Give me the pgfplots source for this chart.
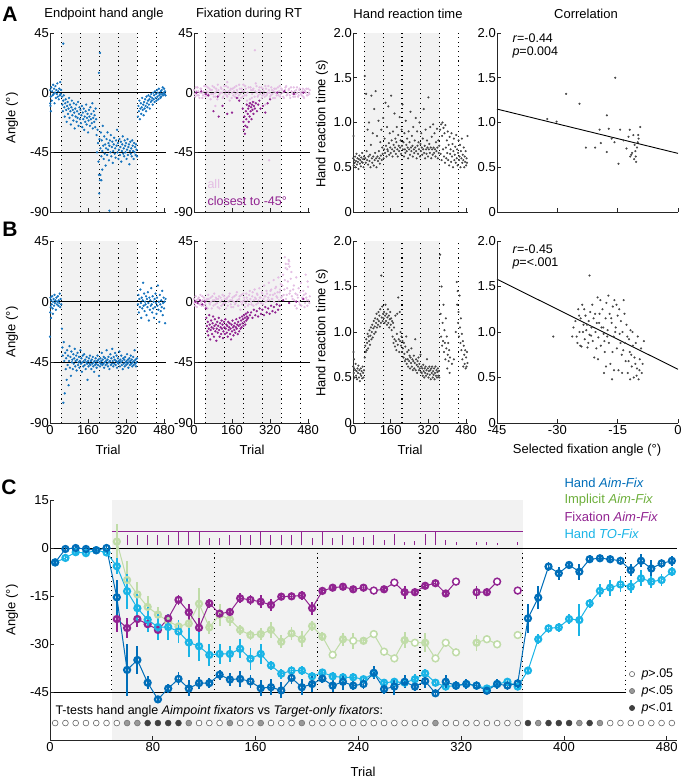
\documentclass[border=0pt]{standalone}
\usepackage{fontspec}
\setmainfont{Liberation Sans}
\usepackage{pgfplots}
\pgfplotsset{compat=1.18}
\definecolor{hbl}{RGB}{0,110,185}
\definecolor{hcy}{RGB}{25,180,230}
\definecolor{hgr}{RGB}{192,220,168}
\definecolor{hgrt}{RGB}{110,175,60}
\definecolor{hpu}{RGB}{145,35,145}
\definecolor{hpk}{RGB}{228,190,228}
\definecolor{sbl}{RGB}{20,115,190}
\definecolor{rtg}{RGB}{70,70,70}
\definecolor{bgc}{RGB}{242,242,242}
\pgfplotsset{
  base/.style={scale only axis, axis lines*=left, tick align=inside, major tick length=4pt, clip=false, axis on top,
     axis line style={line width=0.7pt, black!85}, tick style={line width=0.7pt, black!85},
     /pgf/number format/assume math mode=true,
     tick label style={font=\fontsize{13}{15}\selectfont},
     yticklabel style={inner sep=1pt}, xticklabel style={inner sep=1pt, yshift=-1pt}},
  tr/.style={base, xmin=0, xmax=488, xtick={0,160,320,480}, width=116pt},
  ang/.style={ymin=-90, ymax=45, ytick={-90,-45,0,45}, yticklabels={-90,-45,0,45}},
  rt/.style={ymin=0, ymax=2, ytick={0,0.5,1,1.5,2}, yticklabels={0,0.5,1.0,1.5,2.0}},
  cor/.style={base, xmin=-45, xmax=0, xtick={-45,-30,-15,0}, width=181pt, rt},
  dotl/.style={black, line width=1.1pt, dash pattern=on 1.1pt off 3.6pt},
  sc/.style={only marks, mark=*, mark size=0.95pt},
  hl/.style={black, line width=0.8pt},
}
\newcommand{\deco}[2]{%
 \addplot[fill=bgc, draw=none, forget plot] coordinates {(48,#1) (368,#1) (368,#2) (48,#2)} -- cycle;
 \pgfplotsinvokeforeach{48,128,208,288,368,448}{\addplot[dotl, forget plot] coordinates {(##1,#1) (##1,#2)};}
}
\begin{document}
\fontsize{13}{15}\selectfont
\begin{tikzpicture}[x=1pt,y=1pt]
\path[use as bounding box] (0,0) rectangle (681,-781);

%================ A1
\begin{axis}[tr, ang, at={(50pt,-212pt)}, anchor=south west, height=179pt, xticklabels={}]
\deco{-90}{45}
\addplot[hl] coordinates {(0,0)(488,0)};
\addplot[hl] coordinates {(0,-45)(488,-45)};
\addplot[sc, sbl] coordinates {
(1,2)(3,-3)(5,4)(7,-6)(9,1)(11,-2)(13,6)(15,-1)(17,3)(19,-8)(21,0)(23,5)(25,-4)(27,2)(29,-1)(31,7)(33,-3)(35,1)(37,-5)(39,3)(41,-2)(43,8)(45,-1)(47,2)(2,-10)(4,-14)(1,-8)
(50,-3)(52,-9)(54,-14)(56,-6)(58,-2)(60,-11)(62,-18)(64,-8)(66,-5)(68,-13)(70,-22)(72,-10)(74,-7)(76,-16)(78,-12)(80,-4)(82,-19)(84,-9)(86,-14)(88,-24)(90,-11)(92,-6)(94,-17)(96,-13)(98,-21)(100,-8)(102,-15)(104,-27)(106,-12)(108,-18)(110,-9)(112,-22)(114,-14)(116,-19)(118,-7)(120,-25)(122,-16)(124,-11)(126,-20)(128,-13)(130,-23)(132,-17)(134,-10)(136,-26)(138,-15)(140,-20)(142,-12)(144,-28)(146,-18)(148,-22)(150,-14)(152,-9)(154,-24)(156,-19)(158,-16)(160,-30)(162,-21)(164,-13)(166,-18)(168,-25)(170,-11)(172,-20)(174,-16)(176,-23)(178,-8)(180,-27)(182,-19)(184,-14)(186,-22)(188,-17)(190,-26)(192,-12)(194,-20)
(56,37)(206,15)(210,30)
(196,-32)(198,-45)(200,-28)(202,-38)(204,-52)(206,-62)(208,-35)(210,-66)(212,-42)(214,-30)(216,-48)(218,-36)(220,-44)(222,-25)(224,-40)(226,-50)(228,-33)(230,-46)(232,-39)(234,-55)(236,-42)(238,-35)(240,-47)(242,-30)(244,-43)(246,-38)(248,-51)(250,-40)(252,-36)(254,-45)(256,-32)(258,-48)(260,-41)(262,-37)(264,-53)(266,-44)(268,-39)(270,-34)(272,-46)(274,-42)(276,-49)(278,-36)(280,-40)(282,-28)(284,-45)(286,-38)(288,-50)(290,-43)(292,-35)(294,-47)(296,-41)(298,-37)(300,-52)(302,-44)(304,-39)(306,-33)(308,-46)(310,-42)(312,-48)(314,-36)(316,-40)(318,-45)(320,-38)(322,-50)(324,-43)(326,-35)(328,-47)(330,-41)(332,-39)(334,-54)(336,-44)(338,-37)(340,-46)(342,-42)(344,-48)(346,-36)(348,-40)(350,-44)(352,-50)(354,-38)(356,-45)(358,-41)(360,-47)(362,-39)(364,-43)(366,-48)
(207,-76)(250,-89)(212,-62)(216,-66)(220,-58)
(370,-18)(372,-10)(374,-14)(376,-6)(378,-20)(380,-12)(382,-8)(384,-16)(386,-11)(388,-4)(390,-13)(392,-9)(394,-17)(396,-7)(398,-12)(400,-5)(402,-10)(404,-14)(406,-3)(408,-8)(410,-11)(412,-6)(414,-2)(416,-9)(418,-5)(420,-12)(422,-3)(424,-7)(426,-1)(428,-6)(430,-4)(432,-9)(434,0)(436,-5)(438,-2)(440,-7)(442,1)(444,-4)(446,-1)(448,-6)(450,2)(452,-3)(454,0)(456,-5)(458,3)(460,-2)(462,-1)(464,-4)(466,1)(468,-3)(470,2)(472,-1)(474,4)(476,-2)(478,0)(480,3)(482,-1)(484,1)(486,-2)
};
\end{axis}

%================ A2
\begin{axis}[tr, ang, at={(194pt,-212pt)}, anchor=south west, height=179pt, xticklabels={}]
\deco{-90}{45}
\addplot[hl] coordinates {(0,0)(488,0)};
\addplot[hl] coordinates {(0,-45)(488,-45)};
\addplot[sc, hpk] coordinates {
(0,2)(5,-3)(10,1)(15,4)(20,-2)(25,0)(30,3)(35,-4)(40,1)(45,-1)(50,5)(55,-2)(60,0)(65,3)(70,-5)(75,2)(80,-1)(85,4)(90,-3)(95,1)(100,6)(105,-2)(110,0)(115,3)(120,-4)(125,2)(130,-1)(135,5)(140,-3)(145,1)(150,-6)(155,3)(160,0)(165,-2)(170,4)(175,-1)(180,2)(185,-4)(190,6)(195,-1)(200,3)(205,-3)(210,1)(215,5)(220,-2)(225,0)(230,4)(235,-5)(240,2)(245,-1)(250,3)(255,-3)(260,7)(265,0)(270,-2)(275,4)(280,1)(285,-4)(290,3)(295,-1)(300,5)(305,-2)(310,0)(315,2)(320,-3)(325,4)(330,-1)(335,1)(340,-4)(345,3)(350,0)(355,-2)(360,5)(365,-1)(370,2)(375,-3)(380,1)(385,4)(390,-2)(395,0)(400,3)(405,-4)(410,1)(415,-1)(420,4)(425,-3)(430,2)(435,0)(440,-2)(445,3)(450,-1)(455,1)(460,-3)(465,2)(470,0)(475,-2)(480,3)(485,-1)
(3,-1)(8,4)(13,-2)(18,1)(23,-4)(28,3)(33,0)(38,-2)(43,5)(48,-3)(53,1)(58,4)(63,-2)(68,2)(73,-1)(78,5)(83,-3)(88,0)(93,3)(98,-5)(103,2)(108,-1)(113,4)(118,0)(123,-3)(128,5)(133,1)(138,-2)(143,4)(148,-1)(153,2)(158,-4)(163,3)(168,1)(173,-3)(178,5)(183,0)(188,-2)(193,3)(198,-4)(203,1)(208,6)(213,-2)(218,3)(223,-6)(228,-10)(233,-8)(238,4)(243,-4)(248,2)(253,-7)(258,1)(263,5)(268,-3)(273,2)(278,-1)(283,4)(288,-2)(293,1)(298,-3)(303,3)(308,-1)(313,5)(318,0)(323,-2)(328,2)(333,-4)(338,3)(343,0)(348,-2)(353,4)(358,1)(363,-3)(368,3)(373,0)(378,-4)(383,2)(388,5)(393,-1)(398,2)(403,-2)(408,4)(413,0)(418,-3)(423,1)(428,-1)(433,4)(438,-3)(443,2)(448,0)(453,-2)(458,3)(463,-4)(468,1)(473,3)(478,-2)(483,0)(487,2)
(256,32)(316,-51)(90,-10)(140,8)(300,-9)
};
\addplot[sc, hpu] coordinates {
(10,0)(30,1)(50,-1)(60,-2)(82,-14)(100,-3)(104,-18)(120,-10)(140,-16)(160,-15)(180,-4)(190,-6)
(205,-12)(208,-22)(210,-28)(212,-18)(214,-31)(216,-25)(218,-14)(220,-20)(222,-9)(224,-26)(226,-16)(228,-12)(230,-22)(232,-10)(234,-18)(236,-8)(238,-14)(240,-11)(242,-20)(244,-9)(246,-13)(248,-7)(250,-16)(252,-10)(256,-12)(260,-8)(265,-14)(270,-9)(275,-6)(280,-12)(290,-10)(300,-15)(310,-8)(320,-5)
(350,0)(380,1)(420,-1)(460,0)
};
\end{axis}

%================ A3
\begin{axis}[tr, rt, at={(353pt,-212pt)}, anchor=south west, height=179pt, width=115pt, xticklabels={}]
\deco{0}{2}
\addplot[sc, rtg, mark size=0.85pt] coordinates {
(1,0.6)(3,0.52)(5,0.58)(7,0.55)(9,0.62)(11,0.5)(13,0.57)(15,0.65)(17,0.53)(19,0.6)(21,0.56)(23,0.48)(25,0.59)(27,0.63)(29,0.54)(31,0.58)(33,0.51)(35,0.61)(37,0.56)(39,0.66)(41,0.55)(43,0.59)(45,0.5)(47,0.62)(2,0.85)
(50,1.52)(52,0.6)(54,0.55)(56,1.32)(58,0.68)(60,0.58)(62,0.92)(64,0.53)(66,0.62)(68,1.0)(70,0.57)(72,0.64)(74,0.5)(76,0.75)(78,1.3)(80,0.6)(82,0.55)(84,0.88)(86,0.62)(88,0.52)(90,1.15)(92,0.58)(94,0.66)(96,1.35)(98,0.6)(100,0.5)(102,0.85)(104,0.62)(106,0.57)(108,1.02)(110,0.68)(112,0.6)(114,0.54)(116,0.78)(118,0.63)(120,0.92)(122,0.58)(124,0.72)(126,0.65)(128,1.05)(130,0.6)(132,0.7)(134,0.82)(136,0.66)(138,1.22)(140,0.74)(142,0.62)(144,0.95)(146,0.7)(148,0.68)(150,1.18)(152,0.77)(154,0.64)(156,0.88)(158,0.72)(160,0.66)(162,1.3)(164,0.8)(166,0.7)(168,0.62)(170,0.9)(172,0.75)(174,0.68)(176,1.1)(178,0.72)(180,0.82)(182,0.65)(184,0.78)(186,0.95)(188,0.7)(190,0.62)(192,0.86)(194,0.74)(196,0.68)(198,1.06)(200,0.72)(202,0.8)(204,0.65)(206,0.92)(208,0.74)(210,1.2)(212,0.7)(214,0.78)(216,0.62)(218,0.88)(220,0.7)(222,0.66)(224,1.02)(226,0.75)(228,0.68)(230,0.82)(232,0.72)(234,0.6)(236,0.9)(238,0.7)(240,0.78)(242,0.64)(244,1.12)(246,0.72)(248,0.68)(250,0.85)(252,0.74)(254,0.62)(256,0.95)(258,0.7)(260,0.66)(262,0.8)(264,0.72)(266,1.05)(268,0.68)(270,0.6)(272,0.9)(274,0.74)(276,0.65)(278,0.78)(280,0.7)(282,1.0)(284,0.62)(286,0.76)(288,0.68)(290,0.88)(292,0.72)(294,0.64)(296,0.82)(298,0.7)(300,1.15)(302,0.66)(304,0.74)(306,0.6)(308,0.92)(310,0.7)(312,0.65)(314,0.8)(316,0.72)(318,0.62)(320,1.28)(322,0.7)(324,0.76)(326,0.66)(328,0.95)(330,0.72)(332,0.6)(334,0.84)(336,0.7)(338,0.64)(340,0.98)(342,0.72)(344,0.66)(346,0.88)(348,0.7)(350,0.62)(352,0.78)(354,0.68)(356,0.93)(358,0.72)(360,0.6)(362,0.8)(364,0.66)(366,0.74)
(370,0.92)(372,0.65)(374,0.98)(376,0.58)(378,0.85)(380,1.0)(382,0.7)(384,0.94)(386,0.62)(388,0.88)(390,0.55)(392,0.97)(394,0.72)(396,0.6)(398,0.8)(400,0.66)(402,0.9)(404,0.58)(406,0.75)(408,0.52)(410,0.84)(412,0.65)(414,0.7)(416,0.56)(418,0.88)(420,0.62)(422,0.76)(424,0.5)(426,0.68)(428,0.82)(430,0.58)(432,0.64)(434,0.73)(436,0.55)(438,0.86)(440,0.6)(442,0.7)(444,0.52)(446,0.66)(448,0.8)(450,0.58)(452,0.62)(454,0.75)(456,0.5)(458,0.68)(460,0.6)(462,0.82)(464,0.55)(466,0.64)(468,0.58)(470,0.72)(472,0.5)(474,0.62)(476,0.56)(478,0.68)(480,0.52)(482,0.6)(484,0.55)(486,0.85)
};
\end{axis}

%================ A4
\begin{axis}[cor, at={(497pt,-212pt)}, anchor=south west, height=179pt, xticklabels={}]
\addplot[sc, rtg, mark size=0.85pt] coordinates {
(-32.5,1.04)(-30.2,1.01)(-27.8,1.32)(-24.5,1.21)(-15.6,1.5)(-17.7,1.08)(-19.5,0.92)(-17.2,0.93)(-14.4,0.92)(-22.9,0.72)(-20.6,0.72)(-17.7,0.67)(-19.2,0.77)(-14.8,0.54)(-12.3,0.84)(-11.1,0.86)(-9.4,0.95)(-11.9,0.62)(-10.9,0.59)(-10.4,0.56)(-10.6,0.68)(-10.2,0.72)(-10.0,0.78)(-9.8,0.82)(-10.8,0.75)(-11.4,0.66)(-12.8,0.71)(-13.5,0.8)(-15.8,0.78)(-16.5,0.82)(-12.0,0.92)(-11.6,0.64)(-10.5,0.62)(-9.9,0.86)
};
\addplot[black, line width=0.9pt] coordinates {(-45,1.15)(0,0.655)};
\end{axis}

%================ B1
\begin{axis}[tr, ang, at={(50pt,-423pt)}, anchor=south west, height=182pt, xticklabels={0,160,320,480}]
\deco{-90}{45}
\addplot[hl] coordinates {(0,0)(488,0)};
\addplot[hl] coordinates {(0,-45)(488,-45)};
\addplot[sc, sbl] coordinates {
(0,-26)(1,-8)(2,3)(3,-4)(5,1)(7,-2)(9,4)(11,-5)(13,0)(15,2)(17,-3)(19,5)(21,-1)(23,1)(25,-6)(27,3)(29,-2)(31,0)(33,4)(35,-3)(37,1)(39,-1)(41,6)(43,-4)(45,2)(47,-2)(4,-12)(12,-9)
(50,-20)(52,-34)(54,-40)(56,-75)(58,-30)(60,-44)(62,-68)(64,-38)(66,-50)(68,-42)(70,-58)(72,-36)(74,-47)(76,-40)(78,-62)(80,-44)(82,-33)(84,-49)(86,-41)(88,-55)(90,-37)(92,-45)(94,-43)(96,-50)(98,-39)(100,-46)(102,-42)(104,-35)(106,-48)(108,-44)(110,-40)(112,-51)(114,-43)(116,-38)(118,-47)(120,-45)(122,-41)(124,-49)(126,-44)(128,-36)(130,-46)(132,-42)(134,-52)(136,-45)(138,-40)(140,-48)(142,-44)(144,-39)(146,-47)(148,-43)(150,-50)(152,-45)(154,-41)(156,-46)(158,-58)(160,-44)(162,-48)(164,-42)(166,-46)(168,-40)(170,-47)(172,-44)(174,-50)(176,-43)(178,-46)(180,-41)(182,-48)(184,-45)(186,-52)(188,-44)(190,-47)(192,-42)(194,-46)(196,-49)(198,-44)(200,-40)(202,-47)(204,-43)(206,-55)(208,-45)(210,-48)(212,-42)(214,-46)(216,-44)(218,-38)(220,-47)(222,-43)(224,-46)(226,-41)(228,-49)(230,-45)(232,-42)(234,-47)(236,-44)(238,-36)(240,-46)(242,-43)(244,-48)(246,-41)(248,-45)(250,-50)(252,-44)(254,-39)(256,-47)(258,-42)(260,-46)(262,-35)(264,-44)(266,-48)(268,-41)(270,-46)(272,-43)(274,-38)(276,-47)(278,-44)(280,-40)(282,-49)(284,-45)(286,-42)(288,-46)(290,-44)(292,-37)(294,-48)(296,-43)(298,-45)(300,-40)(302,-47)(304,-44)(306,-50)(308,-42)(310,-46)(312,-43)(314,-48)(316,-41)(318,-45)(320,-47)(322,-44)(324,-39)(326,-46)(328,-43)(330,-49)(332,-45)(334,-42)(336,-47)(338,-44)(340,-40)(342,-46)(344,-43)(346,-48)(348,-45)(350,-41)(352,-47)(354,-44)(356,-36)(358,-46)(360,-43)(362,-48)(364,-45)(366,-42)
(370,-2)(372,5)(374,-8)(376,2)(378,-4)(380,9)(382,-1)(384,-12)(386,3)(388,-5)(390,1)(392,14)(394,-3)(396,6)(398,-7)(400,0)(402,-2)(404,4)(406,-10)(408,2)(410,-4)(412,7)(414,-1)(416,-14)(418,3)(420,-6)(422,1)(424,-3)(426,10)(428,-2)(430,-8)(432,4)(434,-5)(436,0)(438,-12)(440,2)(442,-4)(444,6)(446,-1)(448,-9)(450,3)(452,-3)(454,12)(456,-6)(458,0)(460,-15)(462,5)(464,-2)(466,-7)(468,1)(470,-4)(472,8)(474,-10)(476,-1)(478,3)(480,-5)(482,0)(484,-16)(486,2)
};
\end{axis}

%================ B2
\begin{axis}[tr, ang, at={(194pt,-423pt)}, anchor=south west, height=182pt, xticklabels={0,160,320,480}]
\deco{-90}{45}
\addplot[hl] coordinates {(0,0)(488,0)};
\addplot[hl] coordinates {(0,-45)(488,-45)};
\addplot[sc, hpk] coordinates {
(0,2)(5,-3)(10,1)(15,-1)(20,3)(25,-2)(30,0)(35,4)(40,-3)(45,1)(50,-4)(55,2)(60,5)(65,-1)(70,3)(75,-5)(80,1)(85,6)(90,-2)(95,2)(100,-4)(105,4)(110,0)(115,-3)(120,5)(125,-1)(130,2)(135,-5)(140,3)(145,0)(150,6)(155,-2)(160,1)(165,-4)(170,4)(175,-1)(180,7)(185,-3)(190,2)(195,-6)(200,5)(205,0)(210,3)(215,-4)(220,6)(225,1)(230,-2)(235,8)(240,0)(245,4)(250,-3)(255,9)(260,2)(265,6)(270,-1)(275,10)(280,3)(285,7)(290,-2)(295,12)(300,4)(305,8)(310,1)(315,14)(320,5)(325,9)(330,2)(335,16)(340,6)(345,11)(350,3)(355,18)(360,7)(365,13)(370,4)(375,20)(380,9)(385,25)(390,5)(395,15)(400,30)(405,8)(410,22)(415,2)(420,12)(425,-3)(430,18)(435,5)(440,10)(445,-2)(450,14)(455,3)(460,8)(465,-4)(470,6)(475,1)(480,11)(485,-1)
(2,-1)(7,4)(12,-4)(17,2)(22,-2)(27,5)(32,-3)(37,1)(42,3)(47,-2)(52,1)(57,-5)(62,2)(67,-2)(72,0)(77,4)(82,-3)(87,1)(92,3)(97,-1)(102,2)(107,-5)(112,3)(117,1)(122,-2)(127,4)(132,-1)(137,2)(142,-3)(147,4)(152,1)(157,-4)(162,3)(167,0)(172,-2)(177,5)(182,1)(187,-3)(192,4)(197,0)(202,-2)(207,6)(212,1)(217,-1)(222,3)(227,-3)(232,5)(237,2)(242,-2)(247,7)(252,1)(257,3)(262,-2)(267,5)(272,1)(277,3)(282,-1)(287,6)(292,2)(297,4)(302,0)(307,6)(312,3)(317,1)(322,8)(327,2)(332,5)(337,0)(342,10)(347,4)(352,7)(357,1)(362,9)(367,3)(372,12)(377,5)(382,16)(387,2)(392,10)(397,28)(402,6)(407,17)(412,4)(417,9)(422,1)(427,6)(432,-5)(437,3)(442,0)(447,7)(452,-3)(457,2)(462,5)(467,-1)(472,3)(477,-3)(482,1)(487,4)
(382,33)(386,28)(392,24)(398,31)(402,26)(470,20)(478,15)
};
\addplot[sc, hpu] coordinates {
(50,-5)(52,-12)(54,-18)(56,-22)(58,-15)(60,-25)(62,-20)(64,-10)(66,-17)(68,-28)(70,-21)(72,-14)(74,-19)(76,-24)(78,-16)(80,-11)(82,-20)(84,-26)(86,-18)(88,-13)(90,-22)(92,-17)(94,-29)(96,-20)(98,-15)(100,-23)(102,-18)(104,-12)(106,-21)(108,-26)(110,-16)(112,-19)(114,-24)(116,-14)(118,-20)(120,-17)(122,-27)(124,-22)(126,-15)(128,-19)(130,-24)(132,-13)(134,-20)(136,-17)(138,-23)(140,-18)(142,-26)(144,-15)(146,-21)(148,-19)(150,-16)(152,-24)(154,-20)(156,-28)(158,-17)(160,-22)(162,-14)(164,-19)(166,-25)(168,-18)(170,-21)(172,-16)(174,-23)(176,-19)(178,-13)(180,-20)(182,-17)(184,-24)(186,-15)(188,-18)(190,-22)(192,-12)(194,-17)(196,-20)(198,-14)(200,-19)(202,-11)(204,-16)(206,-13)(208,-18)(210,-10)(212,-15)(214,-12)(216,-17)(218,-9)(220,-14)(222,-11)(224,-13)(226,-8)(228,-12)
(235,-10)(240,-8)(246,-12)(252,-6)(258,-10)(264,-7)(270,-11)(276,-5)(282,-9)(288,-6)(294,-10)(300,-4)(306,-8)(312,-5)(318,-9)(324,-3)(330,-7)(336,-4)(342,-8)(348,-2)(354,-6)(360,-3)
(5,0)(15,-1)(25,1)(35,-2)(45,0)(375,1)(400,-1)(430,0)(460,2)
};
\end{axis}

%================ B3
\begin{axis}[tr, rt, at={(353pt,-423pt)}, anchor=south west, height=182pt, width=115pt, xticklabels={0,160,320,480}]
\deco{0}{2}
\addplot[sc, rtg, mark size=0.85pt] coordinates {
(1,0.62)(2,0.78)(3,0.55)(5,0.6)(7,0.5)(9,0.58)(11,0.65)(13,0.52)(15,0.57)(17,0.48)(19,0.6)(21,0.55)(23,0.63)(25,0.5)(27,0.58)(29,0.46)(31,0.54)(33,0.6)(35,0.52)(37,0.57)(39,0.49)(41,0.62)(43,0.55)(45,0.5)(47,0.58)(4,0.7)
(50,0.72)(52,0.85)(54,0.78)(56,0.92)(58,0.8)(60,0.88)(62,0.98)(64,0.82)(66,0.95)(68,0.9)(70,1.02)(72,0.86)(74,0.96)(76,1.05)(78,0.92)(80,1.0)(82,1.08)(84,0.94)(86,1.04)(88,1.12)(90,0.98)(92,1.06)(94,1.15)(96,1.0)(98,1.1)(100,1.2)(102,1.05)(104,1.14)(106,1.08)(108,1.22)(110,1.12)(112,1.18)(114,1.06)(116,1.25)(118,1.1)(120,1.62)(122,1.16)(124,1.28)(126,1.12)(128,1.2)
(130,1.15)(132,1.22)(134,1.1)(136,1.18)(138,1.3)(140,1.12)(142,1.2)(144,1.08)(146,1.16)(148,1.25)(150,1.1)(152,1.18)(154,1.05)(156,1.14)(158,1.22)(160,1.08)(162,1.15)(164,1.02)(166,1.12)(168,0.95)(170,1.1)(172,0.88)(174,1.05)(176,0.92)(178,0.84)(180,1.18)(182,0.9)(184,0.8)(186,0.98)(188,1.2)(190,0.86)(192,1.38)(194,0.92)(196,0.78)(198,1.22)(200,0.9)
(202,1.0)(204,0.85)(206,0.95)(208,0.78)(210,0.9)(212,0.82)(214,0.72)(216,0.88)(218,0.76)(220,0.68)(222,0.84)(224,0.7)(226,0.95)(228,0.65)(230,0.78)(232,0.7)(234,0.62)(236,0.8)(238,0.68)(240,0.74)(242,0.6)(244,0.72)(246,0.66)(248,0.82)(250,0.62)(252,0.7)(254,0.58)(256,0.68)(258,0.74)(260,0.6)(262,0.66)(264,0.92)(266,0.58)(268,0.7)(270,0.64)(272,0.55)(274,0.68)(276,0.62)(278,0.72)(280,0.58)(282,0.65)(284,0.6)(286,0.75)(288,0.56)
(290,0.62)(292,0.55)(294,0.6)(296,0.52)(298,0.64)(300,0.57)(302,0.5)(304,0.6)(306,0.55)(308,0.62)(310,0.52)(312,0.58)(314,0.7)(316,0.54)(318,0.6)(320,0.5)(322,0.57)(324,0.62)(326,0.53)(328,0.58)(330,0.48)(332,0.6)(334,0.55)(336,0.62)(338,0.5)(340,0.57)(342,0.53)(344,0.6)(346,0.48)(348,0.55)(350,0.62)(352,0.52)(354,0.58)(356,0.5)(358,0.56)(360,0.6)(362,0.52)(364,0.57)(366,0.5)
(370,1.85)(372,1.2)(374,0.95)(376,1.5)(378,0.85)(380,1.1)(382,0.9)(384,1.3)(386,0.78)(388,1.02)(390,0.88)(392,0.7)(394,1.15)(396,0.82)(398,0.95)(400,0.6)(402,0.75)(404,0.88)(406,0.68)(408,0.8)(410,0.55)(412,0.72)(420,0.65)(428,0.7)(436,1.0)
(440,1.55)(442,1.3)(444,1.45)(446,1.1)(448,1.22)(450,0.95)(452,1.4)(454,1.05)(456,0.88)(458,1.15)(460,0.8)(462,0.98)(464,0.7)(466,0.9)(468,0.62)(470,0.85)(472,0.75)(474,0.65)(476,0.8)(478,0.6)(480,0.72)(482,0.62)(484,0.78)(486,0.66)
};
\end{axis}

%================ B4
\begin{axis}[cor, at={(497pt,-423pt)}, anchor=south west, height=182pt, xticklabels={-45,-30,-15,0}]
\addplot[sc, rtg, mark size=0.85pt] coordinates {
(-31,0.95)(-22,1.62)
(-26,1.05)(-25.5,1.12)(-25,0.88)(-24.8,1.25)(-24.5,1.0)(-24.2,1.15)(-24,0.84)(-23.8,1.3)(-23.5,1.08)(-23.2,0.92)(-23,1.18)(-22.8,1.02)(-22.5,0.83)(-22.2,1.12)(-22,0.97)(-21.8,1.22)(-21.5,1.05)(-21.2,0.9)(-21,1.15)(-20.8,0.72)(-20.5,1.0)(-20.2,1.1)(-20,1.38)(-19.8,0.94)(-19.5,1.2)(-19.2,0.85)(-19,1.05)(-18.8,1.25)(-18.5,0.98)(-18.2,0.78)(-18,1.15)(-17.8,1.32)(-17.5,1.02)(-17.2,0.88)(-17,1.2)(-16.8,0.65)(-16.5,1.1)(-16.2,1.28)(-16,0.95)(-15.8,1.35)(-15.5,1.05)(-15.2,0.82)(-15,1.18)(-14.8,0.58)(-14.5,0.98)(-14.2,1.12)(-14,0.75)(-13.8,1.0)(-13.5,1.35)(-13.2,0.88)(-13,0.68)(-12.8,1.08)(-12.5,0.55)(-12.2,0.92)(-12,0.78)(-11.8,1.02)(-11.5,0.62)(-11.2,0.85)(-11,0.5)(-10.8,0.72)(-10.5,0.88)(-10.2,0.6)(-10,0.95)(-9.8,0.48)(-9.5,0.7)(-9.2,0.82)(-9,0.55)(-8.8,0.65)(-8.5,0.9)
(-25.2,0.95)(-24.6,1.18)(-23.6,1.0)(-22.6,1.08)(-21.6,0.96)(-20.6,1.2)(-19.6,1.1)(-18.6,1.05)(-17.6,0.95)(-16.6,1.15)(-15.6,1.0)(-14.6,1.25)(-13.6,0.8)(-12.6,0.95)(-11.6,0.75)(-10.6,0.65)(-9.6,0.58)(-20.3,0.82)(-18.3,0.9)(-16.3,0.78)(-14.3,0.88)(-12.3,0.68)(-10.3,0.52)(-22.3,0.88)(-24.3,0.85)(-26.3,0.95)(-23.3,1.25)(-21.3,1.3)(-19.3,1.35)(-17.3,1.4)(-15.3,1.3)(-13.3,1.2)(-11.3,1.0)(-17.9,0.62)(-15.9,0.58)(-13.9,0.55)(-11.9,0.48)(-19.9,0.7)(-18.4,0.55)(-16.4,0.48)
};
\addplot[black, line width=0.9pt] coordinates {(-45,1.58)(0,0.59)};
\end{axis}

%================ C
\begin{axis}[base, at={(50pt,-740pt)}, anchor=south west, width=627pt, height=240pt,
  xmin=0, xmax=488, ymin=-60, ymax=15, xtick={0,80,160,240,320,400,480}, xticklabels={0,80,160,240,320,400,480},
  ytick={-45,-30,-15,0,15}, yticklabels={-45,-30,-15,0,15},
  cs/.style={line width=1pt, mark=o, mark size=3pt, mark options={line width=2.2pt},
     error bars/y dir=both, error bars/y explicit, error bars/error mark=none, error bars/error bar style={line width=1.8pt}},
  op/.style={only marks, mark=*, mark size=3.2pt, mark options={fill=white, line width=1.1pt}}]
\addplot[fill=bgc, draw=none] coordinates {(48,-60)(368,-60)(368,15)(48,15)} -- cycle;
\pgfplotsinvokeforeach{48,128,208,288,368,448}{\addplot[dotl] coordinates {(#1,0)(#1,-45)};}
\addplot[hl] coordinates {(0,0)(488,0)};
\addplot[hl] coordinates {(0,-45)(448,-45)};
% purple count bars
\addplot[hpu, line width=1pt] coordinates {(48,5.3)(368,5.3)};
\addplot[draw=none, mark=none, error bars/y dir=plus, error bars/y explicit, error bars/error mark=none, error bars/error bar style={draw=hpu, line width=1pt}] table[x=x, y=y, y error=e] {
x y e
52 0.8 4.5
60 0.8 3.4
68 0.8 3.4
76 0.8 3.4
84 0.8 3.4
92 0.8 3.4
100 0.8 4.4
108 0.8 4.4
116 0.8 4.4
124 0.8 2.4
132 0.8 2.4
140 0.8 3.4
148 0.8 3.4
156 0.8 3.4
164 0.8 4.4
172 0.8 3.4
180 0.8 3.4
188 0.8 3.4
196 0.8 4.4
204 0.8 2.4
212 0.8 4.4
220 0.8 2.4
228 0.8 3.2
236 0.8 2.7
244 0.8 2.7
252 0.8 3.2
260 0.8 1.7
268 0.8 3.7
276 0.8 1.2
284 0.8 1.4
292 0.8 3.7
300 0.8 4.4
308 0.8 1.7
316 0.8 1.0
332 0.8 1.2
340 0.8 1.2
348 0.8 0.7
364 0.8 1.0
};
% Implicit Aim-Fix (green)
\addplot[hgr, cs] table[x=x, y=y, y error=e] {
x y e
52 2.0 5.5
60 -10 6
68 -14.5 4
76 -18.4 3.5
84 -20.8 2.5
92 -22.9 2
100 -24.5 2
108 -23.6 2.5
116 -17.4 5
124 -24.8 2
132 -20.9 3.5
140 -22.3 2
148 -25.6 1.5
156 -27.2 1.5
164 -26.9 2
172 -25.6 2.5
180 -29.3 2
188 -26.7 2
196 -28.5 2.5
204 -24.4 1.5
212 -27.7 1.5
220 -33.4 1
228 -28.5 2
236 -29.0 2.5
244 -29.0 1
252 -26.9 1
260 -32.4 1
268 -34.5 1
276 -28.8 2.5
284 -29.6 1
292 -29.6 3
300 -34.5 1
308 -29.6 1
316 -32.6 1
};
\addplot[hgr, cs] table[x=x, y=y, y error=e] {
x y e
332 -29.6 2.5
340 -28.5 1
348 -30.1 1
};
\addplot[hgr, cs] table[x=x, y=y, y error=e] {
x y e
364 -27.2 1
};
\addplot[hgr, op] coordinates {(220,-33.4)(236,-29.0)(252,-26.9)(260,-32.4)(268,-34.5)(284,-29.6)(300,-34.5)(308,-29.6)(316,-32.6)(340,-28.5)(348,-30.1)(364,-27.2)};
% Fixation Aim-Fix (purple)
\addplot[hpu, cs] table[x=x, y=y, y error=e] {
x y e
52 -22.2 4
60 -25.0 3
68 -22.2 2.5
76 -23.8 2
84 -25.6 1.5
92 -22.0 1.5
100 -16.2 1.5
108 -20.1 2.5
116 -24.9 3
124 -17.3 1.5
132 -20.5 1
140 -20.0 1
148 -15.7 1.5
156 -16.2 1.5
164 -16.8 2
172 -17.8 2
180 -15.2 1
188 -15.1 1
196 -14.8 1.5
204 -18.8 2
212 -13.4 1
220 -12.4 1
228 -12.1 0.8
236 -12.9 0.8
244 -12.4 0.8
252 -13.3 0.8
260 -12.9 0.8
268 -10.8 0.8
276 -13.8 2
284 -13.8 0.8
292 -11.8 0.8
300 -11.0 0.8
308 -14.2 0.8
316 -10.5 0.8
};
\addplot[hpu, cs] table[x=x, y=y, y error=e] {
x y e
332 -13.8 2
340 -13.8 0.8
348 -10.5 0.8
};
\addplot[hpu, cs] table[x=x, y=y, y error=e] {
x y e
364 -13.3 0.8
};
\addplot[hpu, op] coordinates {(252,-13.3)(268,-10.8)(316,-10.5)(348,-10.5)(364,-13.3)};
% Hand TO-Fix (cyan)
\addplot[hcy, cs] table[x=x, y=y, y error=e] {
x y e
4 -4.5 0.8
12 -3.1 0.8
20 -1.3 0.5
28 -1.6 0.5
36 -0.7 0.5
44 -1.4 0.5
52 -5.7 2.5
60 -13.5 5.5
68 -18.8 4.5
76 -22.4 4
84 -24.7 4
92 -24.7 4
100 -26.1 3.5
108 -29.5 4.5
116 -30.7 4.5
124 -33.4 3.5
132 -33.1 3
140 -33.1 2.5
148 -31.5 3
156 -34.6 3.5
164 -33.1 3
172 -36.7 1.5
180 -39.3 1.5
188 -38.3 1.5
196 -38.3 1.5
204 -40.1 1.2
212 -38.9 1.2
220 -40.1 1.2
228 -40.4 1.2
236 -40.4 1.2
244 -41.0 1.2
252 -39.2 1.5
260 -42.1 1.2
268 -41.8 1.2
276 -42.1 1
284 -41.0 1.5
292 -39.2 1.5
300 -42.1 1.2
308 -43.3 1
316 -43.0 1
324 -42.5 1
332 -43.0 1
340 -43.9 1
348 -42.5 1
356 -41.8 1
364 -43.3 1
372 -38.3 1.2
380 -28.5 1.5
388 -25.1 1.5
396 -24.8 1.5
404 -22.2 1.5
412 -22.5 5
420 -17.3 1.5
428 -13.4 2
436 -12.4 2.5
444 -11.4 2.5
452 -12.1 2
460 -9.5 2.5
468 -10.5 2
476 -10.0 2
484 -7.4 1.5
};
% Hand Aim-Fix (dark blue)
\addplot[hbl, cs] table[x=x, y=y, y error=e] {
x y e
4 -4.5 0.8
12 -0.3 0.5
20 0 0.5
28 -0.3 0.5
36 -0.7 0.5
44 0 0.5
52 -15.4 5.5
60 -38.1 8
68 -35.0 4.5
76 -42.1 2
84 -47.3 1
92 -43.9 1.5
100 -40.9 2
108 -43.9 2.5
116 -42.2 2
124 -42.2 1.5
132 -39.6 1.5
140 -41.1 2
148 -40.9 2.5
156 -41.7 2
164 -43.8 2.5
172 -43.5 2.5
180 -44.5 2.5
188 -40.6 2
196 -43.5 2.5
204 -42.5 2.5
212 -40.8 1.5
220 -43.0 2
228 -41.8 2.5
236 -43.0 1.5
244 -42.5 1.5
252 -39.0 2
260 -44.1 1.5
268 -43.3 2.5
276 -41.8 2
284 -43.3 1.5
292 -41.6 2
300 -45.4 1
308 -41.8 2
316 -43.0 1.5
324 -42.5 1.5
332 -43.0 1.5
340 -44.6 1
348 -42.5 1.5
356 -43.0 1.5
364 -42.3 1.5
372 -22.0 4.5
380 -15.5 3.5
388 -5.8 1.5
396 -7.9 2
404 -5.3 1.2
412 -7.4 2.5
420 -3.5 1.2
428 -3.2 1
436 -3.5 1
444 -4.0 1.2
452 -6.9 2
460 -4.0 2
468 -6.4 2.5
476 -4.8 1.5
484 -4.0 1.5
};
% t-test significance row
\addplot[only marks, mark=*, mark size=2.9pt, mark options={fill=white, draw=black!60, line width=0.6pt}] coordinates {
(4,-54.7)(12,-54.7)(20,-54.7)(28,-54.7)(36,-54.7)(44,-54.7)(52,-54.7)(116,-54.7)(124,-54.7)(132,-54.7)(148,-54.7)(156,-54.7)(172,-54.7)(180,-54.7)(188,-54.7)(204,-54.7)(212,-54.7)(220,-54.7)(228,-54.7)(236,-54.7)(244,-54.7)(252,-54.7)(260,-54.7)(268,-54.7)(276,-54.7)(284,-54.7)(292,-54.7)(308,-54.7)(316,-54.7)(324,-54.7)(332,-54.7)(340,-54.7)(348,-54.7)(356,-54.7)(364,-54.7)(436,-54.7)(444,-54.7)(452,-54.7)(460,-54.7)(468,-54.7)(476,-54.7)(484,-54.7)};
\addplot[only marks, mark=*, mark size=2.9pt, mark options={fill=black!40, draw=black!55, line width=0.6pt}] coordinates {
(60,-54.7)(68,-54.7)(108,-54.7)(140,-54.7)(164,-54.7)(196,-54.7)(300,-54.7)(380,-54.7)(412,-54.7)(428,-54.7)};
\addplot[only marks, mark=*, mark size=2.9pt, mark options={fill=black!75, draw=black!75, line width=0.6pt}] coordinates {
(76,-54.7)(84,-54.7)(92,-54.7)(100,-54.7)(372,-54.7)(388,-54.7)(396,-54.7)(404,-54.7)(420,-54.7)};
% p legend symbols
\addplot[only marks, mark=*, mark size=2.6pt, mark options={fill=white, draw=black!60, line width=0.6pt}] coordinates {(453,-39.4)};
\addplot[only marks, mark=*, mark size=2.6pt, mark options={fill=black!40, draw=black!55, line width=0.6pt}] coordinates {(453,-44.7)};
\addplot[only marks, mark=*, mark size=2.6pt, mark options={fill=black!75, draw=black!75, line width=0.6pt}] coordinates {(453,-50.0)};
\end{axis}

%================ text
\node[font=\fontsize{21}{23}\selectfont\bfseries] at (10,-14.5) {A};
\node[font=\fontsize{21}{23}\selectfont\bfseries] at (10,-229.5) {B};
\node[font=\fontsize{21}{23}\selectfont\bfseries] at (9,-487.5) {C};
\node at (104,-14) {Endpoint hand angle};
\node at (249,-14) {Fixation during RT};
\node at (408,-14) {Hand reaction time};
\node at (586,-14) {Correlation};
\node[rotate=90] at (12,-118) {Angle (°)};
\node[rotate=90] at (12,-332) {Angle (°)};
\node[rotate=90] at (12,-610) {Angle (°)};
\node[rotate=90] at (322,-124) {Hand reaction time (s)};
\node[rotate=90] at (322,-333) {Hand reaction time (s)};
\node at (108,-450) {Trial};
\node at (252,-450) {Trial};
\node at (410,-450) {Trial};
\node at (587,-450) {Selected fixation angle (°)};
\node at (363,-772) {Trial};
\node[anchor=west, text=hpk, font=\fontsize{12.5}{14}\selectfont] at (203,-184) {all};
\node[anchor=west, text=hpu, font=\fontsize{12.5}{14}\selectfont] at (203,-201) {closest to -45°};
\node[anchor=west, font=\fontsize{12.5}{14}\selectfont] at (508,-38) {\textit{r}=-0.44};
\node[anchor=west, font=\fontsize{12.5}{14}\selectfont] at (508,-52) {\textit{p}=0.004};
\node[anchor=west, font=\fontsize{12.5}{14}\selectfont] at (508,-249) {\textit{r}=-0.45};
\node[anchor=west, font=\fontsize{12.5}{14}\selectfont] at (508,-263) {\textit{p}=<.001};
\node[anchor=west, text=hbl] at (560,-483) {Hand \textit{Aim-Fix}};
\node[anchor=west, text=hgrt] at (560,-500) {Implicit \textit{Aim-Fix}};
\node[anchor=west, text=hpu] at (560,-517) {Fixation \textit{Aim-Fix}};
\node[anchor=west, text=hcy] at (560,-534) {Hand \textit{TO-Fix}};
\node[anchor=west, font=\fontsize{12.5}{14}\selectfont] at (637,-674) {\textit{p}>.05};
\node[anchor=west, font=\fontsize{12.5}{14}\selectfont] at (637,-691) {\textit{p}<.05};
\node[anchor=west, font=\fontsize{12.5}{14}\selectfont] at (637,-708) {\textit{p}<.01};
\node[anchor=west, font=\fontsize{12.5}{14}\selectfont] at (51,-711) {T-tests hand angle \textit{Aimpoint fixators} vs \textit{Target-only fixators}:};
\end{tikzpicture}
\end{document}
